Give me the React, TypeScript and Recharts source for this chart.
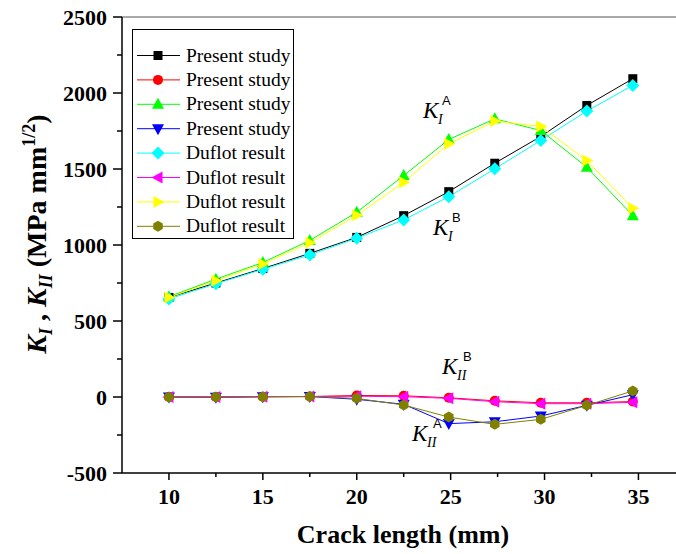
import { LineChart, Line, XAxis, YAxis, ReferenceLine } from "recharts";

const crackLength = [10, 12.5, 15, 17.5, 20, 22.5, 24.9, 27.35, 29.8, 32.25, 34.7];

// Present study
const presentKIB = [655, 750, 845, 945, 1050, 1193, 1351, 1538, 1714, 1918, 2094];
const presentKIIB = [0, 0, 2, 3, 10, 8, -5, -25, -38, -38, -30];
const presentKIA = [660, 775, 885, 1030, 1215, 1457, 1694, 1830, 1753, 1512, 1193];
const presentKIIA = [0, -2, 2, 3, -15, -48, -175, -163, -125, -55, 15];

// Duflot result
const duflotKIB = [645, 745, 840, 935, 1045, 1165, 1318, 1501, 1688, 1881, 2050];
const duflotKIIB = [0, 0, 2, 3, 5, 2, -9, -31, -44, -44, -35];
const duflotKIA = [655, 765, 875, 1015, 1195, 1413, 1666, 1815, 1780, 1556, 1241];
const duflotKIIA = [0, 0, 2, 3, -9, -53, -132, -180, -147, -55, 40];

const xTicks = [10, 12.5, 15, 17.5, 20, 22.5, 25, 27.5, 30, 32.5, 35];
const yTicks = [-500, -250, 0, 250, 500, 750, 1000, 1250, 1500, 1750, 2000, 2250, 2500];

type Shape = "square" | "circle" | "up" | "down" | "diamond" | "left" | "right" | "hexagon";

const series: { key: string; name: string; color: string; shape: Shape; values: number[] }[] = [
  { key: "s1", name: "Present study", color: "#000000", shape: "square", values: presentKIB },
  { key: "s2", name: "Present study", color: "#FF0000", shape: "circle", values: presentKIIB },
  { key: "s3", name: "Present study", color: "#00FF00", shape: "up", values: presentKIA },
  { key: "s4", name: "Present study", color: "#0000FF", shape: "down", values: presentKIIA },
  { key: "s5", name: "Duflot result", color: "#00FFFF", shape: "diamond", values: duflotKIB },
  { key: "s6", name: "Duflot result", color: "#FF00FF", shape: "left", values: duflotKIIB },
  { key: "s7", name: "Duflot result", color: "#FFFF00", shape: "right", values: duflotKIA },
  { key: "s8", name: "Duflot result", color: "#808000", shape: "hexagon", values: duflotKIIA },
];

const data = crackLength.map((x, i) => {
  const row: Record<string, number> = { x };
  series.forEach((s) => (row[s.key] = s.values[i]));
  return row;
});

const SERIF = "'Liberation Serif', 'Times New Roman', serif";
const SANS = "'Liberation Sans', Arial, sans-serif";

function marker(shape: Shape, color: string, cx: number, cy: number, key?: any) {
  const p = (pts: number[][]) => pts.map(([a, b]) => `${cx + a},${cy + b}`).join(" ");
  switch (shape) {
    case "square":
      return <rect key={key} x={cx - 4.5} y={cy - 4.5} width={9} height={9} fill={color} />;
    case "circle":
      return <circle key={key} cx={cx} cy={cy} r={5} fill={color} />;
    case "up":
      return <polygon key={key} points={p([[0, -6.5], [6, 4.5], [-6, 4.5]])} fill={color} />;
    case "down":
      return <polygon key={key} points={p([[0, 6.5], [6, -4.5], [-6, -4.5]])} fill={color} />;
    case "diamond":
      return <polygon key={key} points={p([[0, -6.5], [6.5, 0], [0, 6.5], [-6.5, 0]])} fill={color} />;
    case "left":
      return <polygon key={key} points={p([[-6.5, 0], [4.5, -6], [4.5, 6]])} fill={color} />;
    case "right":
      return <polygon key={key} points={p([[6.5, 0], [-4.5, -6], [-4.5, 6]])} fill={color} />;
    default: {
      const r = 5.5;
      const pts = [0, 1, 2, 3, 4, 5].map((k) => {
        const a = (Math.PI / 3) * k + Math.PI / 6;
        return [r * Math.cos(a), r * Math.sin(a)];
      });
      return <polygon key={key} points={p(pts)} fill={color} />;
    }
  }
}

const XTick = (props: any) => {
  const { x, y, payload } = props;
  const major = payload.value % 5 === 0;
  return (
    <g>
      <line x1={x} y1={y} x2={x} y2={y + (major ? 7 : 4)} stroke="#000" strokeWidth={1.5} />
      {major && (
        <text x={x} y={y + 31} textAnchor="middle" fontFamily={SERIF} fontWeight="bold" fontSize={22} fill="#000">
          {payload.value}
        </text>
      )}
    </g>
  );
};

const YTick = (props: any) => {
  const { x, y, payload } = props;
  const major = payload.value % 500 === 0;
  return (
    <g>
      <line x1={x - (major ? 9 : 5)} y1={y} x2={x} y2={y} stroke="#000" strokeWidth={1.5} />
      {major && (
        <text x={x - 15} y={y + 7.5} textAnchor="end" fontFamily={SERIF} fontWeight="bold" fontSize={22} fill="#000">
          {payload.value}
        </text>
      )}
    </g>
  );
};

const KLabel = ({ x, y, sub, sup }: { x: number; y: number; sub: string; sup: string }) => (
  <g>
    <text x={x} y={y} fontFamily={SERIF} fontStyle="italic" fontSize={23} fill="#000">
      K
    </text>
    <text x={x + 15} y={y + 6} fontFamily={SERIF} fontStyle="italic" fontSize={14} fill="#000">
      {sub}
    </text>
    <text x={x + 15 + (sub.length > 1 ? 6 : 4)} y={y - 13} fontFamily={SANS} fontSize={13} fill="#000">
      {sup}
    </text>
  </g>
);

const legendTop = 55.5;
const legendStep = 24.4;

const Overlay = () => (
  <svg
    width={676}
    height={554}
    style={{ position: "absolute", left: 0, top: 0, pointerEvents: "none" }}
  >
    {/* legend */}
    <rect x={132.5} y={29.5} width={161} height={209} fill="#fff" stroke="#000" strokeWidth={1} />
    {series.map((s, i) => {
      const cy = legendTop + i * legendStep;
      return (
        <g key={s.key}>
          <line x1={137} y1={cy} x2={180} y2={cy} stroke={s.color} strokeWidth={1} />
          {marker(s.shape, s.color, 158, cy)}
          <text x={186} y={cy + 6} fontFamily={SERIF} fontSize={19.5} fill="#000">
            {s.name}
          </text>
        </g>
      );
    })}

    {/* curve annotations */}
    <KLabel x={423} y={118} sub="I" sup="A" />
    <KLabel x={433} y={235} sub="I" sup="B" />
    <KLabel x={442} y={374} sub="II" sup="B" />
    <KLabel x={412} y={441} sub="II" sup="A" />

    {/* axis titles */}
    <text x={403} y={543} textAnchor="middle" fontFamily={SERIF} fontWeight="bold" fontSize={26} fill="#000">
      Crack length (mm)
    </text>
    <text
      x={46}
      y={234}
      transform="rotate(-90 46 234)"
      textAnchor="middle"
      fontFamily={SERIF}
      fontWeight="bold"
      fontSize={28}
      fill="#000"
    >
      <tspan fontStyle="italic">K</tspan>
      <tspan fontStyle="italic" fontSize={18} dy={6}>I</tspan>
      <tspan dy={-6}> , </tspan>
      <tspan fontStyle="italic">K</tspan>
      <tspan fontStyle="italic" fontSize={18} dy={6}>II</tspan>
      <tspan dy={-6}> (MPa mm</tspan>
      <tspan fontSize={18} dy={-11}>1/2</tspan>
      <tspan dy={11}>)</tspan>
    </text>
  </svg>
);

export default function App() {
  return (
    <div style={{ position: "absolute", left: 0, top: 0, width: 676, height: 554, background: "#fff" }}>
      <LineChart width={676} height={554} data={data} margin={{ top: 17, right: 0, left: 0, bottom: 0 }}>
        <XAxis
          dataKey="x"
          type="number"
          domain={[7.5, 37]}
          ticks={xTicks}
          interval={0}
          height={81}
          tickSize={0}
          tickMargin={0}
          tickLine={false}
          tick={<XTick />}
          axisLine={{ stroke: "#000", strokeWidth: 1.5 }}
        />
        <YAxis
          type="number"
          domain={[-500, 2500]}
          ticks={yTicks}
          interval={0}
          width={122}
          tickSize={0}
          tickMargin={0}
          tickLine={false}
          tick={<YTick />}
          axisLine={{ stroke: "#000", strokeWidth: 1.5 }}
        />
        <ReferenceLine y={2500} stroke="#555" strokeWidth={1} />
        {series.map((s) => (
          <Line
            key={s.key}
            dataKey={s.key}
            name={s.name}
            type="linear"
            stroke={s.color}
            strokeWidth={1}
            isAnimationActive={false}
            dot={(p: any) => marker(s.shape, s.color, p.cx, p.cy, `${s.key}-${p.index}`)}
            activeDot={false}
          />
        ))}
      </LineChart>
      <Overlay />
    </div>
  );
}
